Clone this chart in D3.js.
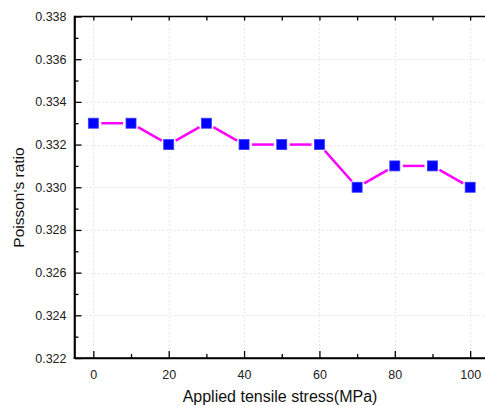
<!DOCTYPE html>
<html>
<head>
<meta charset="utf-8">
<script src="https://cdn.jsdelivr.net/npm/d3@7"></script>
<style>
  body { margin: 0; background: #fff; }
  svg { display: block; font-family: 'Liberation Sans', Arial, sans-serif; }
</style>
</head>
<body>
<svg id="chart" width="485" height="406"></svg>
<script>
// stress (MPa) and Poisson's ratio
const stress = [0, 10, 20, 30, 40, 50, 60, 70, 80, 90, 100];
const ratio = [0.333, 0.333, 0.332, 0.333, 0.332, 0.332, 0.332, 0.330, 0.331, 0.331, 0.330];
const xTicks = [0, 20, 40, 60, 80, 100];
const yTicks = [0.322, 0.324, 0.326, 0.328, 0.330, 0.332, 0.334, 0.336, 0.338];

const svg = d3.select('#chart');
const margin = { top: 16.5, left: 74.5, bottom: 358 };

const x = d3.scaleLinear().domain([-5, 105]).range([margin.left, 489]);
const y = d3.scaleLinear().domain([0.322, 0.338]).range([margin.bottom, margin.top]);

// dotted grid
const grid = svg.append('g').attr('stroke', '#d0d0d0').attr('stroke-width', 1).attr('stroke-dasharray', '1,3');
grid.selectAll('.gx').data(xTicks).join('line')
  .attr('x1', d => Math.round(x(d)) + 0.5).attr('x2', d => Math.round(x(d)) + 0.5)
  .attr('y1', margin.top).attr('y2', margin.bottom);
grid.selectAll('.gy').data(yTicks.slice(1, -1)).join('line')
  .attr('x1', margin.left).attr('x2', 485)
  .attr('y1', d => Math.round(y(d)) + 0.5).attr('y2', d => Math.round(y(d)) + 0.5);

// axes, ticks inward
const bottomAxis = svg.append('g')
  .attr('transform', `translate(0,${margin.bottom})`)
  .call(d3.axisBottom(x).tickValues(xTicks).tickSize(-7).tickPadding(12).tickSizeOuter(0));
const bottomMinor = svg.append('g')
  .attr('transform', `translate(0,${margin.bottom})`)
  .call(d3.axisBottom(x).tickValues(d3.range(10, 101, 20)).tickSize(-4).tickFormat('').tickSizeOuter(0));
const topAxis = svg.append('g')
  .attr('transform', `translate(0,${margin.top})`)
  .call(d3.axisTop(x).tickValues(d3.range(0, 101, 10)).tickSize(-4).tickFormat('').tickSizeOuter(0));
const leftAxis = svg.append('g')
  .attr('transform', `translate(${margin.left},0)`)
  .call(d3.axisLeft(y).tickValues(yTicks).tickSize(-7).tickPadding(8).tickFormat(d3.format('.3f')).tickSizeOuter(0));
const leftMinor = svg.append('g')
  .attr('transform', `translate(${margin.left},0)`)
  .call(d3.axisLeft(y).tickValues(d3.range(0.323, 0.338, 0.002)).tickSize(-4).tickFormat('').tickSizeOuter(0));

[bottomAxis, bottomMinor, topAxis, leftAxis, leftMinor].forEach(g => {
  g.selectAll('.domain').attr('stroke', '#000').attr('stroke-width', 1.6);
  g.selectAll('.tick line').attr('stroke', '#000').attr('stroke-width', 1.3);
  g.selectAll('.tick text').attr('fill', '#222').style('font-size', '12.5px').style('font-family', "'Liberation Sans', Arial, sans-serif");
});
// extend the top and left borders to the corner
topAxis.select('.domain').attr('d', `M${margin.left},0H485`);
leftAxis.select('.domain').attr('d', `M0,${margin.top - 0.8}V${margin.bottom + 0.8}`);
bottomAxis.select('.domain').attr('d', `M${margin.left - 0.8},0H485`);

// line with small gaps around the markers
const pts = stress.map((s, i) => [x(s), y(ratio[i])]);
const gap = 8;
const segs = d3.pairs(pts).map(([a, b]) => {
  const dx = b[0] - a[0], dy = b[1] - a[1];
  const len = Math.hypot(dx, dy);
  const ux = dx / len, uy = dy / len;
  return [a[0] + ux * gap, a[1] + uy * gap, b[0] - ux * gap, b[1] - uy * gap];
});
svg.append('g').selectAll('line').data(segs).join('line')
  .attr('x1', d => d[0]).attr('y1', d => d[1])
  .attr('x2', d => d[2]).attr('y2', d => d[3])
  .attr('stroke', '#ff00ff').attr('stroke-width', 2.5);

// square markers
const size = 10;
svg.append('g').selectAll('rect').data(pts).join('rect')
  .attr('x', d => d[0] - size / 2).attr('y', d => d[1] - size / 2)
  .attr('width', size).attr('height', size)
  .attr('fill', '#0000ff').attr('stroke', '#3a3aff').attr('stroke-width', 0.8);

// axis titles
svg.append('text')
  .attr('x', 280).attr('y', 401.5)
  .attr('text-anchor', 'middle')
  .style('font-size', '16px').attr('fill', '#111')
  .text('Applied tensile stress(MPa)');
svg.append('text')
  .attr('transform', 'translate(23.5,197.5) rotate(-90)')
  .attr('text-anchor', 'middle')
  .style('font-size', '15.5px').attr('fill', '#111')
  .text("Poisson's ratio");
</script>
</body>
</html>
